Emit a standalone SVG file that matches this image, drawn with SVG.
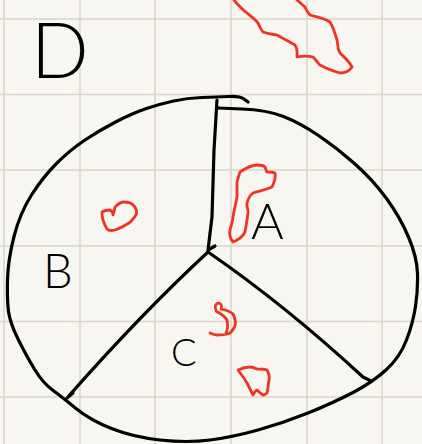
<svg xmlns="http://www.w3.org/2000/svg" width="422" height="444" viewBox="0 0 422 444">
<style>
.grid{stroke:#d9d5cd;stroke-width:1.5}
.ink{fill:none;stroke:#000;stroke-width:3.2;stroke-linecap:round;stroke-linejoin:round}
.red{fill:none;stroke:#ee3524;stroke-width:2.8;stroke-linecap:round;stroke-linejoin:round}
.lbl{font-family:"Lato","Open Sans","DejaVu Sans",sans-serif;font-weight:300;fill:#000}
</style>
<rect width="422" height="444" fill="#f8f6f0"/>
<g id="grid">
<line class="grid" x1="4" y1="0" x2="4" y2="444"/>
<line class="grid" x1="80" y1="0" x2="80" y2="444"/>
<line class="grid" x1="155" y1="0" x2="155" y2="444"/>
<line class="grid" x1="231" y1="0" x2="231" y2="444"/>
<line class="grid" x1="307" y1="0" x2="307" y2="444"/>
<line class="grid" x1="382" y1="0" x2="382" y2="444"/>
<line class="grid" x1="0" y1="19" x2="422" y2="19"/>
<line class="grid" x1="0" y1="94.5" x2="422" y2="94.5"/>
<line class="grid" x1="0" y1="170" x2="422" y2="170"/>
<line class="grid" x1="0" y1="246" x2="422" y2="246"/>
<line class="grid" x1="0" y1="321.5" x2="422" y2="321.5"/>
<line class="grid" x1="0" y1="397" x2="422" y2="397"/>
</g>
<g id="circle">
<path class="ink" d="M248,102 L244,99 Q240,96 228.5,96.5 Q217,97 202,97.5 Q187,98 173.5,101 Q160,104 146.5,108.5 Q133,113 116.5,121.5 Q100,130 85,140 Q70,150 56.5,163.5 Q43,177 31.5,195 Q20,213 14,236.5 Q8,260 7.5,280 Q7,300 8.5,311.5 Q10,323 18.5,340 Q27,357 35,370 Q43,383 52.5,390 Q62,397 76,408.5 Q90,420 111.5,428.5 Q133,437 160,440 Q187,443 210,440 Q233,437 258,430 Q283,423 308,413 Q333,403 353,392.5 Q373,382 386.5,369.5 Q400,357 406.5,340 Q413,323 415.5,306.5 Q418,290 417.5,273.5 Q417,257 408.5,237 Q400,217 386.5,198.5 Q373,180 355,164 Q337,148 318.5,135.5 Q300,123 283.5,116.5 Q267,110 242,109 L218,108"/>
<path class="ink" d="M217,100 L214,150 L212,217 L208,250 L215,246"/>
<path class="ink" d="M208,252 Q140,315 67,398 L73,393"/>
<path class="ink" d="M208,252 Q285,305 363,377 L371,381"/>
</g>
<g id="labels">
<text class="lbl" x="31" y="78" font-size="76">D</text>
<text class="lbl" x="251" y="239" font-size="50">A</text>
<text class="lbl" x="43" y="288" font-size="47">B</text>
<text class="lbl" x="171" y="366" font-size="38">C</text>
</g>
<g id="scribbles">
<path class="red" d="M234,0 C239,6 243,10 247,13 C252,17 256,20 258,23 C260,27 261,30 263,32 C268,34 272,34 277,35 C284,39 290,42 295,45 C298,49 297,54 297,57 C302,56 309,56 313,57 C316,60 318,63 320,65 C327,69 333,71 340,73 C346,73 350,70 352,67 C349,61 344,57 340,53 C337,48 338,44 337,40 C335,33 333,27 330,22 C324,18 316,17 310,15 C307,12 306,9 305,7 L297,0"/>
<path class="red" d="M240,172 C246,168 251,165 257,165 C261,165 264,166 265,167 C266,169 266,171 267,172 C270,172 273,172 275,173 C276,178 274,183 272,187 C265,190 259,191 253,193 C249,196 248,199 247,203 C246,207 249,210 248,213 C247,221 246,226 245,232 C243,236 238,240 233,242 C230,238 229,234 230,230 C231,225 233,221 233,217 C234,210 236,203 237,197 C237,191 237,187 237,182 C238,178 239,175 240,172Z"/>
<path class="red" d="M102,212 C105,210 108,210 110,210 C112,211 113,213 113,215 C114,211 115,209 115,207 C118,204 120,202 124,202 C129,202 132,203 134,206 C137,209 137,212 136,215 C133,219 132,221 129,223 C124,226 119,229 115,230 C111,231 108,230 107,229 C105,226 104,223 103,220 C102,217 102,214 102,212Z"/>
<path class="red" d="M216,310 C214,306 216,303 219,303 C222,304 222,307 221,309 C226,310 230,311 233,314 C235,318 236,322 235,326 C233,330 231,333 228,334 C224,335 220,335 217,335 C214,335 212,334 210,333 M216,311 C221,314 225,316 227,320 C228,325 228,329 226,333"/>
<path class="red" d="M238,370 C242,368 246,367 250,367 C253,367 255,368 257,369 C261,369 265,369 267,370 C269,374 270,377 269,380 C268,385 268,390 267,393 C265,395 264,395 263,395 C260,393 258,391 257,390 C255,391 254,393 253,395 C251,391 249,387 247,383 C244,378 241,374 238,370Z"/>
</g>
</svg>
